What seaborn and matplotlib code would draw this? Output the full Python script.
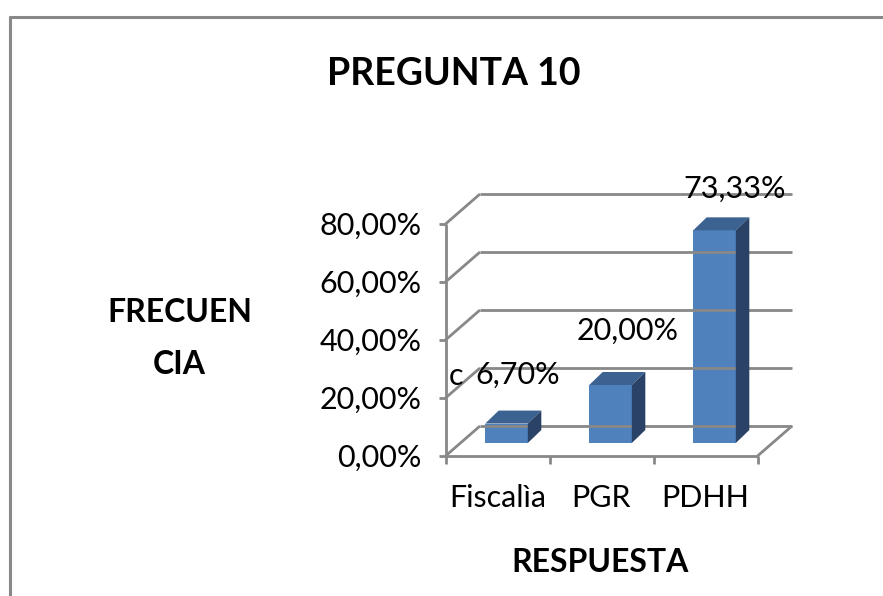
import matplotlib
matplotlib.use("Agg")
import matplotlib.pyplot as plt
import matplotlib.transforms as mtrans
from matplotlib.patches import Polygon
from matplotlib.lines import Line2D
import seaborn as sns
import pandas as pd

# ---------------- data ----------------
categories = ["Fiscalìa", "PGR", "PDHH"]
values = [0.067, 0.20, 0.7333]
value_labels = ["6,70%", "20,00%", "73,33%"]
y_ticks = [0.0, 0.2, 0.4, 0.6, 0.8]
y_tick_labels = ["0,00%", "20,00%", "40,00%", "60,00%", "80,00%"]
title = "PREGUNTA 10"
x_title = "RESPUESTA"

# ---------------- layout ----------------
W, H, DPI = 883, 596, 100
sns.set_theme(style="white")
plt.rcParams["font.family"] = ["Lato", "DejaVu Sans"]
FS = 22
FSB = 23
FST = 27

FRONT = "#4F81BD"
TOP = "#3C6291"
SIDE = "#2A4266"
GRID = "#888888"
LW = 2.0

fig = plt.figure(figsize=(W / DPI, H / DPI), dpi=DPI)
fig.patch.set_facecolor("white")

# bar plane axes: x -0.5..2.5 -> px 454.5..766.5, y 0 -> px 443 (from top), 290 px per unit
x0_px, x1_px, base_px, scale = 454.5, 766.5, 443.0, 290.0
ax = fig.add_axes([x0_px / W, (H - base_px) / H, (x1_px - x0_px) / W, 0.8 * scale / H])

df = pd.DataFrame({"cat": categories, "val": values})
sns.barplot(data=df, x="cat", y="val", ax=ax, color=FRONT, saturation=1,
            width=0.41, edgecolor="none", zorder=5)
ax.set_xlim(-0.5, 2.5)
ax.set_ylim(0, 0.8)
ax.axis("off")

FRONT_OFF = (-9.0, 13.0)   # image px (dx right, dy down)
BACK_OFF = (25.5, -17.0)
BAR_DEPTH = (13.5, -13.0)


def P(x, y, off=(0.0, 0.0)):
    px, py = ax.transData.transform((x, y))
    return (px + off[0], py - off[1])


ident = mtrans.IdentityTransform()


def line(p, q, lw=LW):
    fig.add_artist(Line2D([p[0], q[0]], [p[1], q[1]], transform=ident, color=GRID,
                          lw=lw, solid_capstyle="butt"))


# back wall gridlines and left wall diagonals
for t in y_ticks:
    line(P(-0.5, t, BACK_OFF), P(2.5, t, BACK_OFF))
    line(P(-0.5, t, FRONT_OFF), P(-0.5, t, BACK_OFF))
# floor
line(P(-0.5, 0, FRONT_OFF), P(2.5, 0, FRONT_OFF))
line(P(2.5, 0, FRONT_OFF), P(2.5, 0, BACK_OFF))
# front value axis
line(P(-0.5, 0, FRONT_OFF), P(-0.5, 0.8, FRONT_OFF))
for t, lab in zip(y_ticks, y_tick_labels):
    a = P(-0.5, t, FRONT_OFF)
    line((a[0] - 7, a[1]), a)
    fig.text((a[0] - 24) / W, (a[1] - 11) / H, lab, ha="right", va="baseline",
             fontsize=FS, color="black")
# category ticks and labels
for b in [-0.5, 0.5, 1.5, 2.5]:
    a = P(b, 0, FRONT_OFF)
    line(a, (a[0], a[1] - 8))
for i, lab in enumerate(categories):
    a = P(i, 0, FRONT_OFF)
    fig.text(a[0] / W, (H - 507) / H, lab, ha="center", va="baseline",
             fontsize=FS, color="black")

# 3D faces for the bars
for bar in ax.patches:
    x, w, h = bar.get_x(), bar.get_width(), bar.get_height()
    tl, tr = P(x, h), P(x + w, h)
    br = P(x + w, 0)
    top = [tl, tr, P(x + w, h, BAR_DEPTH), P(x, h, BAR_DEPTH)]
    side = [br, tr, P(x + w, h, BAR_DEPTH), P(x + w, 0, BAR_DEPTH)]
    fig.add_artist(Polygon(top, closed=True, transform=ident, facecolor=TOP,
                           edgecolor="none", zorder=4))
    fig.add_artist(Polygon(side, closed=True, transform=ident, facecolor=SIDE,
                           edgecolor="none", zorder=4))

# data labels
label_off = [(11, 40), (17, 45), (20, 33)]
for bar, lab, off in zip(ax.patches, value_labels, label_off):
    cx = bar.get_x() + bar.get_width() / 2
    a = P(cx, bar.get_height())
    fig.text((a[0] + off[0]) / W, (a[1] + off[1]) / H, lab, ha="center",
             va="baseline", fontsize=FS, color="black", zorder=6)
# stray "c" character from the original
c = P(-0.5, values[0], FRONT_OFF)
fig.text((c[0] + 3) / W, (H - 385) / H, "c", ha="left", va="baseline",
         fontsize=FS, color="black")

# titles
fig.text(453.5 / W, (H - 85) / H, title, ha="center", va="baseline",
         fontsize=FST, fontweight="bold", color="black")
fig.text(600 / W, (H - 572) / H, x_title, ha="center", va="baseline",
         fontsize=FSB, fontweight="bold", color="black")
fig.text(180 / W, (H - 322) / H, "FRECUEN", ha="center", va="baseline",
         fontsize=FSB, fontweight="bold", color="black")
fig.text(179 / W, (H - 374) / H, "CIA", ha="center", va="baseline",
         fontsize=FSB, fontweight="bold", color="black")

# chart area border (top and left visible)
fig.add_artist(Line2D([10, 10], [0, H - 16.5], transform=ident, color=GRID, lw=2.2))
fig.add_artist(Line2D([10, W], [H - 16.5, H - 16.5], transform=ident, color=GRID, lw=2.2))

fig.savefig("out.png", dpi=DPI)
